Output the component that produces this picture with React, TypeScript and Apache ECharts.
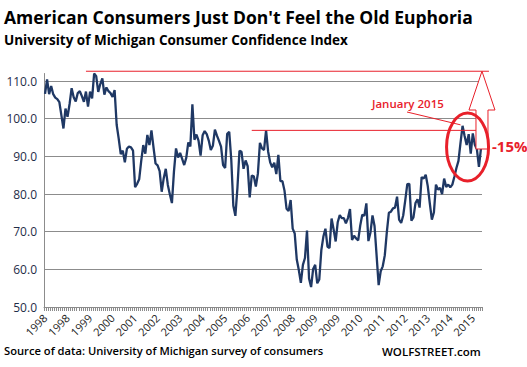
import React, { useEffect, useRef } from "react";
import * as echarts from "echarts";

const startYear = 1998;
const y1998 = [106.6, 110.4, 106.5, 108.7, 106.5, 105.6, 105.2, 104.4, 100.9, 97.4, 102.7, 100.5];
const y1999 = [103.9, 108.1, 105.7, 104.6, 106.8, 107.3, 106.0, 104.5, 107.2, 103.2, 107.2, 105.4];
const y2000 = [112.0, 111.3, 107.1, 109.2, 110.7, 106.4, 108.3, 107.3, 106.8, 105.8, 107.6, 98.4];
const y2001 = [94.7, 90.6, 91.5, 88.4, 92.0, 92.6, 92.4, 91.5, 81.8, 82.7, 83.9, 88.8];
const y2002 = [93.0, 90.7, 95.7, 93.0, 96.9, 92.4, 88.1, 87.6, 86.1, 80.6, 84.2, 86.7];
const y2003 = [82.4, 79.9, 77.6, 86.0, 92.1, 89.7, 90.9, 89.3, 87.7, 89.6, 93.7, 92.6];
const y2004 = [103.8, 94.4, 95.8, 94.2, 90.2, 95.6, 96.7, 95.9, 94.2, 91.7, 92.8, 97.1];
const y2005 = [95.5, 94.1, 92.6, 87.7, 86.9, 96.0, 96.5, 89.1, 76.9, 74.2, 81.6, 91.5];
const y2006 = [91.2, 86.7, 88.9, 87.4, 79.1, 84.9, 84.7, 82.0, 85.4, 93.6, 92.1, 91.7];
const y2007 = [96.9, 91.3, 88.4, 87.1, 88.3, 85.3, 90.4, 83.4, 83.4, 80.9, 76.1, 75.5];
const y2008 = [78.4, 70.8, 69.5, 62.6, 59.8, 56.4, 61.2, 63.0, 70.3, 57.6, 55.3, 60.1];
const y2009 = [61.2, 56.3, 57.3, 65.1, 68.7, 70.8, 66.0, 65.7, 73.5, 70.6, 67.4, 72.5];
const y2010 = [74.4, 73.6, 73.6, 72.2, 73.6, 76.0, 67.8, 68.9, 68.2, 67.7, 71.6, 74.5];
const y2011 = [74.2, 77.5, 67.5, 69.8, 74.3, 71.5, 63.7, 55.8, 59.5, 60.8, 63.7, 69.9];
const y2012 = [75.0, 75.3, 76.2, 76.4, 79.3, 73.2, 72.3, 74.3, 78.3, 82.6, 82.7, 72.9];
const y2013 = [73.8, 77.6, 78.6, 76.4, 84.5, 84.1, 85.1, 82.1, 77.5, 73.2, 75.1, 82.5];
const y2014 = [81.2, 81.6, 80.0, 84.1, 81.9, 82.5, 81.8, 82.5, 84.6, 86.9, 88.8, 93.6];
const y2015 = [98.1, 95.4, 93.0, 95.9, 90.7, 96.1, 93.1, 91.9, 87.2, 92.1];

const yearly = [y1998, y1999, y2000, y2001, y2002, y2003, y2004, y2005, y2006, y2007, y2008, y2009, y2010, y2011, y2012, y2013, y2014, y2015];

const yTicks = [50, 60, 70, 80, 90, 100, 110];

const titleText = "American Consumers Just Don't Feel the Old Euphoria";
const subtitleText = "University of Michigan Consumer Confidence Index";
const sourceText = "Source of data: University of Michigan survey of consumers";
const brandText = "WOLFSTREET.com";
const janLabel = "January 2015";
const pctLabel = "-15%";

// annotation anchors (data space)
const peakLevel = 112.6;
const jan2007Level = 96.9;

export default function App() {
  const ref = useRef<HTMLDivElement>(null);
  useEffect(() => {
    if (!ref.current) return;
    const chart = echarts.init(ref.current, undefined, { renderer: "svg" });
    const categories: string[] = [];
    const values: number[] = [];
    yearly.forEach((arr, yi) => {
      arr.forEach((v, mi) => {
        categories.push(`${startYear + yi}-${String(mi + 1).padStart(2, "0")}`);
        values.push(v);
      });
    });
    const red = "#E8202A";
    const font = "'Open Sans', sans-serif";
    chart.setOption({
      animation: false,
      grid: { left: 44, right: 45, top: 73.5, bottom: 60 },
      xAxis: {
        type: "category",
        data: categories,
        boundaryGap: true,
        axisLine: { lineStyle: { color: "#8c8c8c", width: 1 } },
        axisTick: { show: true, interval: 0, length: 4, lineStyle: { color: "#8c8c8c" } },
        axisLabel: {
          interval: 10,
          rotate: 45,
          margin: 9,
          color: "#1b1b1b",
          fontFamily: font,
          fontSize: 11,
          formatter: (v: string) => v.slice(0, 4),
        },
        splitLine: { show: false },
      },
      yAxis: {
        type: "value",
        min: yTicks[0],
        max: 112,
        interval: 10,
        axisLine: { show: true, lineStyle: { color: "#8c8c8c" } },
        axisTick: { show: false },
        axisLabel: {
          showMaxLabel: false,
          color: "#1f2d48",
          fontFamily: font,
          fontSize: 12,
          margin: 7,
          formatter: (v: number) => v.toFixed(1),
        },
        splitLine: { show: true, showMaxLine: false, lineStyle: { color: "#8c8c8c", width: 1 } },
      },
      series: [
        {
          type: "line",
          data: values,
          symbol: "none",
          lineStyle: { color: "#1F3864", width: 2.3 },
          z: 3,
        },
      ],
    });

    const n = values.length;
    const p = (idx: number, v: number) => chart.convertToPixel({ gridIndex: 0 }, [idx, v]) as number[];
    const topY = p(0, peakLevel)[1];
    const janY = p(0, jan2007Level)[1];
    const topStartX = p(20, peakLevel)[0];
    const janStartX = p(101, jan2007Level)[0];
    const jan15 = p(n - 10, values[n - 10]);
    const lastPt = p(n - 1, values[n - 1]);
    const tipX = lastPt[0] + 1;
    const shaftL = tipX - 6;
    const shaftR = tipX + 6;
    const headBase = 110;
    const shaftBottom = 149;

    chart.setOption({
      graphic: [
        { type: "text", left: 4, top: 8, style: { text: titleText, fontFamily: font, fontWeight: "bold", fontSize: 17.5, fill: "#000" } },
        { type: "text", left: 4, top: 33, style: { text: subtitleText, fontFamily: font, fontWeight: "bold", fontSize: 13.5, fill: "#000" } },
        { type: "text", left: 4, top: 345, style: { text: sourceText, fontFamily: font, fontWeight: 600, fontSize: 11.2, fill: "#000" } },
        { type: "text", left: 382, top: 345, style: { text: brandText, fontFamily: font, fontWeight: 600, fontSize: 11.5, fill: "#000" } },
        { type: "line", z: 10, shape: { x1: topStartX, y1: topY, x2: shaftR + 1, y2: topY }, style: { stroke: red, lineWidth: 1 } },
        { type: "line", z: 10, shape: { x1: janStartX, y1: janY, x2: shaftL, y2: janY }, style: { stroke: red, lineWidth: 1 } },
        {
          type: "polygon",
          z: 11,
          shape: {
            points: [
              [tipX, topY],
              [tipX + 13, headBase],
              [shaftR, headBase],
              [shaftR, shaftBottom],
              [shaftL, shaftBottom],
              [shaftL, headBase],
              [tipX - 13, headBase],
            ],
          },
          style: { fill: "#fff", stroke: red, lineWidth: 1 },
        },
        { type: "ellipse", z: 12, shape: { cx: jan15[0] + 5, cy: 147, rx: 21, ry: 34 }, style: { fill: "none", stroke: red, lineWidth: 3 } },
        { type: "line", z: 10, shape: { x1: 407, y1: 112, x2: jan15[0] - 2, y2: jan15[1] - 1 }, style: { stroke: red, lineWidth: 1 } },
        { type: "text", z: 12, left: 372, top: 97, style: { text: janLabel, fontFamily: font, fontWeight: 600, fontSize: 11.5, fill: red } },
        { type: "text", z: 12, left: 492, top: 138, style: { text: pctLabel, fontFamily: font, fontWeight: "bold", fontSize: 15, fill: red } },
      ],
    });
    return () => chart.dispose();
  }, []);
  return <div ref={ref} style={{ position: "absolute", left: 0, top: 0, width: 527, height: 367 }} />;
}
